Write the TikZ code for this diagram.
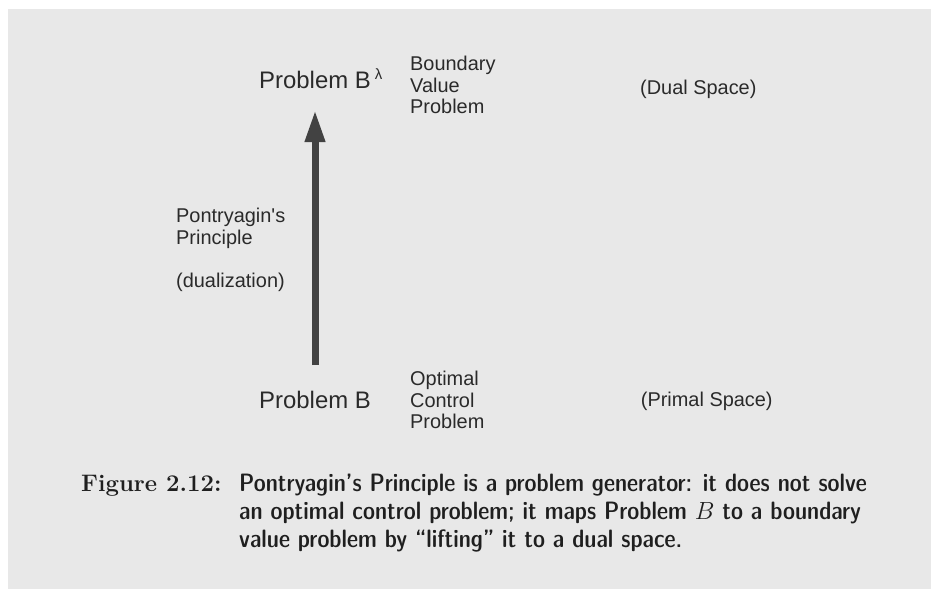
\documentclass[tikz,border=0pt]{standalone}
\usepackage{fontspec}
\usetikzlibrary{arrows.meta}
\newfontfamily\labelsf{Liberation Sans}
\definecolor{panelgray}{RGB}{232,232,232}
\definecolor{inkgray}{RGB}{42,42,42}
\definecolor{arrowgray}{RGB}{66,66,66}

\begin{document}
\begin{tikzpicture}[x=1bp,y=-1bp,
    every node/.style={inner sep=0pt,text=inkgray},
    bigtext/.style={font=\labelsf\fontsize{24}{26}\selectfont,anchor=base west},
    smalltext/.style={font=\labelsf\fontsize{20}{21.7}\selectfont,align=left,anchor=north west},
    spacetext/.style={font=\labelsf\fontsize{20}{21.7}\selectfont,anchor=base west},
    captext/.style={text=black!88,anchor=base west},
    lift/.style={draw=arrowgray,line width=7bp,-{Triangle[length=32bp,width=19bp]}}]

    % canvas and gray panel
    \useasboundingbox (0,0) rectangle (931,589);
    \fill[panelgray] (8,9) rectangle (931,589);

    % the two problems
    \node[bigtext] (pbl) at (259,88.7) {Problem B\hspace{4bp}\raisebox{9.5bp}{\fontsize{15}{15}\selectfont λ}};
    \node[bigtext] (pb) at (259,408.7) {Problem B};

    % what each problem is
    \node[smalltext] (bvp) at (410,56) {Boundary\\Value\\Problem};
    \node[smalltext] (ocp) at (410,371) {Optimal\\Control\\Problem};

    % spaces
    \node[spacetext] (dual) at (640,95) {(Dual Space)};
    \node[spacetext] (primal) at (640.7,406) {(Primal Space)};

    % lifting arrow
    \draw[lift,shorten <=26bp,shorten >=21bp] (pb.north) -- (pb.north |- pbl.south);
    \node[smalltext] (pp) at (176,208) {Pontryagin\textquotesingle s\\Principle\\[21.7bp](dualization)};

    % caption (last line sets the base)
    \node[captext,font=\fontsize{24}{28.5}\selectfont\bfseries] (figlab) at (81,491) {Figure 2.12:};
    \node[captext,font=\fontsize{25.2}{28.2}\selectfont\fontseries{sbc}\sffamily,align=left] (captxt) at (239,547.5)
        {Pontryagin's Principle is a problem generator: it does not solve\\
         an optimal control problem; it maps Problem $B$ to a boundary\\
         value problem by ``lifting'' it to a dual space.};

\end{tikzpicture}
\end{document}
